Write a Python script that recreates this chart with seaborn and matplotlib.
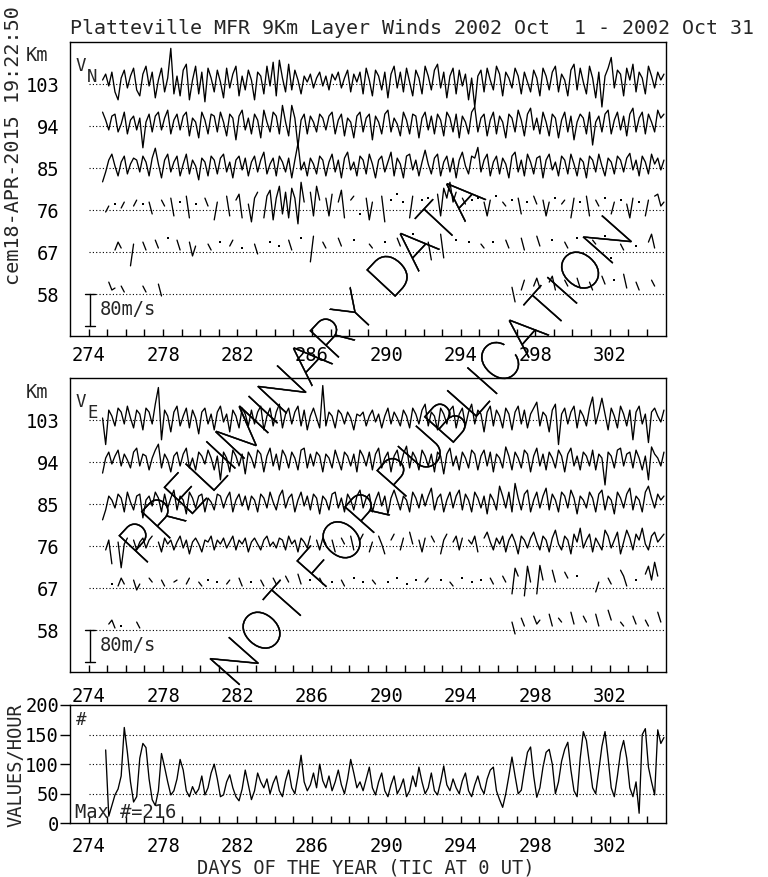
import numpy as np
import pandas as pd
import matplotlib
matplotlib.use("Agg")
import matplotlib.pyplot as plt
import seaborn as sns
from matplotlib import font_manager as fm
import matplotlib.patheffects as pe

N = None

# ---- data (winds in m/s, sampled every 4 h from day 274.75) ----
first_day = 274.75
per_day = 6
heights = [103, 94, 85, 76, 67, 58]
day_ticks = list(range(274, 305))
day_labels = [str(d) if (d - 274) % 4 == 0 else "" for d in day_ticks]
count_ticks = [0, 50, 100, 150, 200]

vn_103 = [10, 25, -5, 30, -20, -40, 15, 35, -10, 20, 40, -15,
          -30, 25, 45, -5, 30, -35, 10, 40, -20, 15, 90, -25,
          20, -30, 35, 50, -40, 10, 45, -25, 30, -45, 40, 15,
          -20, 35, 5, -35, 40, -10, 25, 45, -30, 20, -15, 35,
          10, -40, 30, 20, -25, 45, -5, 55, -30, 60, 15, -20,
          50, -15, 35, 10, -25, 20, 5, 25, -10, 15, 30, -5,
          20, -15, 25, 10, 30, -10, 15, 35, -20, 25, 5, 30,
          -25, 40, 10, -30, 35, 20, -15, 30, -35, 25, 45, -10,
          30, -20, 40, 5, -30, 35, 15, -25, 45, 20, -15, 35,
          50, -10, 30, -35, 20, 40, -25, 35, -5, 25, -40, 15,
          -58, 20, 35, -20, 40, 10, -15, 45, 25, -30, 30, 15,
          -10, 40, 20, -25, 30, 5, -20, 35, 15, -30, 40, 20,
          -15, 30, 45, -20, 25, 10, -30, 35, 50, -15, 40, 5,
          -25, 45, 15, -35, 30, -58, 20, 40, 67, -10, 35, 25,
          -30, 40, 10, 50, -20, 30, 15, -25, 45, 20, -10, 30,
          10, 25]
vn_94 = [35, 15, -10, 25, 30, -15, 5, 35, -20, 15, 25, -10,
         20, -55, 10, 30, -15, 25, 35, -10, 20, 40, -20, 15,
         30, -10, 25, 35, -25, 20, 10, -30, 35, 15, -20, 30,
         25, -15, 35, 10, -25, 30, 20, -35, 25, 40, -10, 20,
         -20, 30, 15, -30, 40, 10, -15, 35, 25, -20, 52, 10,
         -25, 52, 20, -52, 15, 30, -20, 25, 10, -15, 30, 20,
         -10, 25, 35, -20, 15, 30, -25, 20, 10, -30, 25, 35,
         -15, 20, 30, -35, 25, 10, -20, 30, 40, -15, 20, 5,
         -25, 35, 15, -20, 30, 25, -30, 20, 35, -10, 25, -20,
         30, 15, -25, 35, 20, -15, 30, -30, 25, 10, -20, 35,
         48, -15, 20, 30, -25, 15, 35, -20, 25, 10, -30, 30,
         20, -15, 40, 15, -25, 30, 45, -10, 20, -20, 35, 10,
         -25, 30, 20, -30, 15, 35, -15, 25, -35, 10, 30, 20,
         -20, 35, -48, 10, 25, -15, 30, 40, -20, 15, 35, -10,
         25, -25, 30, 45, -15, 20, 35, -20, 30, 10, -15, 40,
         20, 30]
vn_85 = [-35, -10, 20, 35, 5, -20, 15, 30, -15, 10, 25, 20,
         -10, 30, 15, -20, 25, 50, 10, -25, 20, 35, -10, 15,
         30, -20, 10, 35, -15, 20, 5, -30, 25, 15, -20, 30,
         20, -15, 25, 35, -10, 15, -25, 20, 30, -5, 25, -20,
         15, 30, -10, 20, 40, -15, 10, 25, -20, 30, 15, -10,
         25, -25, 20, 62, -5, 15, -20, 25, 10, -15, 30, 20,
         -20, 15, 35, -10, 20, -25, 25, 40, -5, 15, -20, 30,
         20, -15, 35, 10, -25, 20, 30, -10, 15, 40, -20, 25,
         10, -25, 30, 35, -5, 20, -20, 15, 45, 10, -15, 25,
         35, -20, 15, 30, -10, 25, -25, 20, 40, 5, -15, 30,
         25, 52, -10, 20, 35, -20, 15, 30, -15, 25, 10, -25,
         30, 40, -10, 20, -20, 35, 15, -15, 25, 30, -25, 20,
         35, -5, 15, -20, 30, 20, -15, 35, 10, -20, 25, 15,
         -25, 30, 20, -10, 35, 5, -20, 25, 15, -15, 30, 20,
         -10, 25, 37, -5, 20, -20, 30, 15, -15, 35, 10, 25,
         -5, 20]
vn_76 = [N, -5, 10, N, 15, N, 5, 20, N, N, 10, 25,
         N, 15, N, 20, -10, N, N, 25, 10, N, 30, -15,
         N, 20, N, 35, -20, N, 15, N, N, 30, 10, N,
         -25, 20, N, N, 35, -15, N, 25, 40, -20, N, 15,
         -30, 30, 45, N, -20, 35, 50, -25, 30, 60, -10, 45,
         -20, 55, 30, -35, 70, 20, N, 45, -15, 60, 25, N,
         30, -15, 40, N, 20, 50, -20, N, 25, 35, N, -10,
         N, 30, -25, 20, N, N, 35, -30, N, 25, N, 40,
         N, 20, N, -20, 35, N, N, 25, N, 30, N, N,
         40, -15, 55, 30, 70, 20, 45, N, 30, 15, N, 25,
         N, 30, N, 20, -15, 25, N, 35, N, 20, 10, N,
         25, N, 30, -10, N, 20, N, 35, 15, N, 25, -15,
         20, N, 30, N, 15, 25, N, -20, 30, N, 20, N,
         35, -15, N, 25, 10, N, 30, N, -10, 20, N, 25,
         N, 15, -20, 30, N, 20, N, -15, 25, N, 35, 40,
         10, 20]
vn_67 = [N, N, N, N, 5, 25, 10, N, N, -35, 20, N,
         N, 25, 5, N, N, 30, 10, N, N, 35, N, N,
         30, 5, N, N, 25, -10, 15, N, N, N, 20, 5,
         N, N, 25, N, N, 15, 30, N, N, 10, N, N,
         N, 20, -5, N, N, N, 25, N, N, 15, N, N,
         30, 5, N, N, 35, N, N, -25, 40, N, N, 25,
         10, N, N, N, 35, 15, N, N, N, 30, N, N,
         N, N, 20, 10, N, N, N, 25, N, N, N, 35,
         15, N, N, N, 45, N, N, N, N, 25, -20, N,
         N, 45, -15, N, N, N, 30, N, N, N, 25, N,
         N, N, 20, 10, N, N, 25, N, N, N, 30, 10,
         N, N, N, 35, 5, N, N, N, 40, 15, N, N,
         N, 30, N, N, N, 25, 10, N, N, 35, N, N,
         N, N, 30, 20, N, N, 40, N, -15, N, N, 20,
         5, N, N, N, 15, N, N, N, 25, 45, 10, N,
         N, N]
vn_58 = [N, N, 30, 10, 15, N, 20, 5, N, N, N, N,
         N, 20, 5, N, N, N, 25, -5, N, N, N, N,
         N, N, N, N, N, N, N, N, N, N, N, N,
         N, N, N, N, N, N, N, N, N, N, N, N,
         N, N, N, N, N, N, N, N, N, N, N, N,
         N, N, N, N, N, N, N, N, N, N, N, N,
         N, N, N, N, N, N, N, N, N, N, N, N,
         N, N, N, N, N, N, N, N, N, N, N, N,
         N, N, N, N, N, N, N, N, N, N, N, N,
         N, N, N, N, N, N, N, N, N, N, N, N,
         N, N, N, N, N, N, N, N, N, N, N, N,
         17, -20, N, 10, 35, N, N, 20, 40, 15, N, N,
         30, 45, 10, N, N, 35, 20, N, N, 40, 15, N,
         N, 30, 10, N, N, 45, 25, N, N, 35, N, N,
         50, 15, N, N, 30, 10, N, N, N, 35, 20, N,
         N, N]

ve_103 = [5, -62, 25, 10, -15, 30, 20, -10, 35, 5, -20, 25,
          15, -25, 30, 20, -10, 40, 82, -50, 25, 10, -30, 20,
          35, -15, 10, 30, -20, 25, 5, -35, 20, 30, -10, 15,
          -25, 20, 35, -5, 15, -30, 25, 10, -20, 30, 15, -15,
          25, -10, 20, 35, -25, 10, 30, -15, 20, 40, -20, 15,
          30, -10, 20, 35, -15, 25, -25, 10, 30, 5, -20, 87,
          -15, 20, 10, -20, 25, 15, -10, 20, 5, -25, 15, 10,
          20, -15, 10, 25, -5, 15, -20, 10, 30, -10, 20, 5,
          -15, 25, 10, -20, 30, 15, -10, 25, 40, -15, 20, 10,
          -25, 30, 15, -10, 25, 35, -20, 15, 30, -15, 20, 40,
          -10, 25, 15, -30, 20, 35, -15, 25, 10, -20, 30, 15,
          -25, 20, 35, -10, 25, -20, 15, 30, 45, -15, 20, 10,
          -30, 25, 40, -62, 15, 30, -10, 20, 35, -20, 25, 10,
          -15, 30, 58, -10, 20, 55, 15, -25, 30, 10, -20, 35,
          15, -15, 25, -50, 20, 35, -10, 15, -57, 20, 30, 10,
          -5, 25]
ve_94 = [-28, 10, 25, -5, 15, 30, -10, 20, 5, -15, 25, 35,
         -10, 20, 15, -20, 10, 30, 45, -15, 20, 5, -25, 15,
         25, -10, 20, 35, -15, 10, -20, 25, 15, -5, 30, 10,
         -20, 15, -45, 25, 10, -25, 30, 15, -10, 20, -30, 25,
         10, -15, 30, 20, -25, 15, 35, -10, 20, -20, 30, 15,
         -15, 25, 10, -20, 30, 35, -15, 20, -10, 25, 15, -25,
         20, 10, -15, 30, 5, -20, 25, 15, -10, 20, -25, 30,
         15, -10, 25, -20, 20, 35, -15, 10, 25, -25, 15, 30,
         -10, 20, 40, -15, 25, 10, -20, 30, 15, -10, 20, -25,
         25, 15, -30, 20, 35, -10, 15, -20, 25, 10, -15, 30,
         20, -20, 15, 30, -10, 25, -25, 20, 10, -15, 38, 15,
         -20, 25, 10, -15, 30, 20, -25, 15, 35, -10, 20, -20,
         25, 10, -15, 30, 15, -25, 20, 35, -10, 15, -20, 25,
         15, -10, 30, -20, 20, 10, -58, 25, 15, -15, 30, 35,
         -10, 20, 25, -15, 30, 10, -20, 15, -45, 38, 20, 10,
         -10, 25]
ve_85 = [-40, -15, 20, 10, -10, 25, 15, -20, 30, 5, -15, 20,
         25, -35, 10, 20, -5, 30, 15, -20, 25, -10, 15, 35,
         -15, 20, 10, -25, 30, 15, -10, 20, 25, -20, 15, 5,
         -15, 25, 20, -10, 15, 30, -20, 10, 25, -5, 20, -15,
         20, 10, -20, 25, 15, -10, 30, 5, -15, 20, 35, -10,
         15, 25, -20, 10, 30, -5, 20, -15, 25, 15, -25, 20,
         10, -15, 25, 30, -10, 15, -20, 25, 10, -15, 20, 35,
         -10, 15, 25, -20, 10, 30, -5, 20, -25, 15, 35, 10,
         -15, 20, 10, -20, 30, 15, -10, 25, -5, 20, 40, -15,
         15, 25, -20, 10, 30, -10, 20, 35, -15, 25, 10, -20,
         30, 15, -10, 20, -25, 25, 10, -15, 45, 20, -10, 30,
         -20, 52, 15, -15, 25, 35, -20, 10, 30, -10, 20, 40,
         -15, 25, 10, -20, 30, 20, -10, 35, 15, -25, 20, 10,
         -10, 30, 15, -20, 25, 35, -15, 20, 10, -25, 30, 15,
         -10, 25, 40, -15, 20, 10, -20, 30, 45, 15, -10, 25,
         10, 20]
ve_76 = [N, -10, 15, -45, N, 10, -55, 5, 20, N, 15, -10,
         10, 20, -5, 15, 25, N, 10, -15, 20, 5, 15, -10,
         10, 25, -5, 15, -20, 10, 20, 5, -15, 15, 10, 25,
         -10, 15, 5, 20, -5, 10, 25, -10, 15, 5, 20, -15,
         10, 20, 5, -10, 15, 25, 0, 10, -5, 20, 15, -10,
         25, 5, 15, -15, 20, 10, -5, 25, N, 15, -10, 20,
         5, N, 15, -15, N, 20, 5, N, 25, -10, N, 15,
         30, N, -15, 10, N, 25, 5, -20, N, 15, 30, N,
         -10, 20, N, 35, 5, N, 15, -15, 20, N, 25, 10,
         N, -20, 15, 30, N, 10, 25, -10, 20, N, 15, 5,
         25, -15, N, 20, 35, 10, -10, 20, 5, 25, -15, 15,
         30, 10, -20, 25, 15, -5, 20, 35, 10, -10, 25, 15,
         -15, 20, 40, 5, -10, 25, 15, -20, 30, 10, 45, -5,
         15, 30, -15, 20, 5, -10, 40, 25, -5, 15, 35, -20,
         10, 40, 20, -10, 30, 15, 45, 5, -10, 25, 35, 10,
         20, 30]
ve_67 = [N, N, N, 10, N, 5, 25, 10, N, N, 20, -5,
         10, N, N, 25, 15, N, N, 20, 5, N, N, 15,
         20, N, N, 10, 25, N, N, 15, 5, N, 20, N,
         N, 15, N, N, 10, 20, N, N, 25, 5, N, N,
         15, N, N, 20, 5, N, N, 25, 10, N, N, 30,
         15, N, N, 35, 10, N, N, 20, N, N, 25, 10,
         N, N, 15, N, N, 20, 5, N, N, 25, N, N,
         15, N, N, 20, 10, N, N, N, 15, N, N, 25,
         N, N, 10, N, N, 20, N, N, 15, 25, N, N,
         N, 20, N, N, 15, 5, N, N, 25, N, N, 15,
         N, N, 20, N, N, 25, 10, N, N, 30, 15, N,
         -15, 50, 30, N, -20, 55, 15, N, -15, 57, 20, N,
         N, 45, 15, N, N, 40, 25, N, N, 30, N, N,
         N, N, N, -10, 15, N, N, 25, 10, N, N, 45,
         30, 5, N, N, 20, N, N, 35, 55, 20, 65, 30,
         N, N]
ve_58 = [N, N, 15, 25, 5, N, 10, N, N, N, N, 20,
         5, N, N, N, N, N, N, N, N, N, N, N,
         N, N, N, N, N, N, N, N, N, N, N, N,
         N, N, N, N, N, N, N, N, N, N, N, N,
         N, N, N, N, N, N, N, N, N, N, N, N,
         N, N, N, N, N, N, N, N, N, N, N, N,
         N, N, N, N, N, N, N, N, N, N, N, N,
         N, N, N, N, N, N, N, N, N, N, N, N,
         N, N, N, N, N, N, N, N, N, N, N, N,
         N, N, N, N, N, N, N, N, N, N, N, N,
         N, N, N, N, N, N, N, N, N, N, N, N,
         20, -10, N, 30, 10, N, N, 35, 15, 25, N, N,
         40, 10, N, 30, 20, N, N, 45, 15, N, N, 35,
         20, N, N, 40, 10, N, N, 50, 25, N, N, 20,
         10, N, N, 35, 15, N, N, 25, 10, N, N, 45,
         20, N]

counts = [N, 124, 12, 30, 48, 58, 80, 162, 120, 70, 36, 45,
          110, 135, 128, 75, 40, 30, 55, 118, 95, 70, 48, 55,
          75, 108, 90, 55, 45, 62, 50, 58, 80, 48, 60, 85,
          100, 75, 45, 48, 70, 82, 60, 45, 38, 58, 90, 65,
          40, 55, 85, 70, 60, 75, 50, 68, 80, 55, 45, 72,
          90, 60, 50, 80, 115, 70, 55, 65, 85, 60, 100, 72,
          60, 80, 55, 70, 90, 65, 50, 75, 108, 85, 60, 70,
          55, 75, 95, 60, 48, 70, 85, 55, 45, 65, 80, 50,
          60, 75, 45, 55, 80, 62, 95, 70, 50, 60, 85, 55,
          48, 70, 97, 65, 55, 75, 60, 50, 72, 85, 55, 45,
          65, 80, 60, 50, 75, 90, 95, 55, 40, 27, 50, 80,
          112, 80, 50, 56, 90, 120, 129, 80, 44, 60, 95, 120,
          125, 100, 50, 70, 105, 125, 137, 90, 55, 45, 110, 155,
          140, 100, 60, 50, 90, 130, 155, 110, 60, 45, 80, 120,
          140, 110, 60, 45, 70, 17, 150, 160, 95, 70, 48, 158,
          135, 145]

SCALE_MS = 80
KM_PER_MS = 6.79 / SCALE_MS

W, H = 768, 877
sns.set_style("ticks")
plt.rcParams["font.family"] = "DejaVu Sans Mono"
plt.rcParams["axes.edgecolor"] = "black"
plt.rcParams["axes.linewidth"] = 1.0

fig = plt.figure(figsize=(W / 100, H / 100), dpi=100)


def box(left, top, right, bottom):
    return [left / W, 1 - bottom / H, (right - left) / W, (bottom - top) / H]


def segments(values, base, scale):
    rows = []
    seg = 0
    gap = False
    for i, v in enumerate(values):
        if v is None:
            gap = True
            continue
        if gap:
            seg += 1
            gap = False
        rows.append((first_day + i / per_day, base + v * scale, seg))
    return pd.DataFrame(rows, columns=["day", "y", "seg"])


def draw_trace(ax, values, base, scale):
    df = segments(values, base, scale)
    size = df.groupby("seg")["day"].transform("size")
    sns.lineplot(data=df[size > 1], x="day", y="y", units="seg", estimator=None,
                 color="black", linewidth=0.95, ax=ax, legend=False)
    single = df[size == 1]
    if len(single):
        sns.scatterplot(data=single, x="day", y="y", color="black", s=3,
                        marker="s", linewidth=0, ax=ax, legend=False)


def style_x(ax, pad):
    ax.set_xlim(273, 305)
    ax.set_xticks(day_ticks)
    ax.set_xticklabels(day_labels)
    ax.tick_params(axis="x", direction="in", length=5, width=1, pad=pad,
                   labelsize=13.5, colors="black")
    ax.set_xlabel("")
    ax.set_ylabel("")
    for s in ax.spines.values():
        s.set_visible(True)
        s.set_linewidth(1.0)


def wind_panel(rect, traces, comp, pad):
    ax = fig.add_axes(rect)
    ax.hlines(heights, 274, 305, colors="black", linestyles=(0, (1, 2)), linewidth=0.8)
    for h, vals in zip(heights, traces):
        draw_trace(ax, vals, h, KM_PER_MS)
    style_x(ax, pad)
    ax.set_ylim(49, 112)
    ax.set_yticks(heights)
    ax.set_yticklabels([str(h) for h in heights])
    ax.tick_params(axis="y", length=0, pad=7.5, labelsize=13.5, colors="black")
    # scale bar
    bar_top = 58
    bar_bot = 58 - SCALE_MS * KM_PER_MS
    ax.plot([274.08, 274.08], [bar_top, bar_bot], color="black", linewidth=1)
    ax.plot([273.8, 274.36], [bar_top, bar_top], color="black", linewidth=1)
    ax.plot([273.8, 274.36], [bar_bot, bar_bot], color="black", linewidth=1)
    ax.text(274.6, (bar_top + bar_bot) / 2, f"{SCALE_MS}m/s", fontsize=13.5,
            ha="left", va="center")
    ax.text(-0.075, 1.0 - 14 / 294, "Km", transform=ax.transAxes, fontsize=13.5,
            ha="left", va="center")
    ax.text(6 / 595.5, 1 - 15 / 294, "V", transform=ax.transAxes, fontsize=12.5,
            ha="left", va="top")
    ax.text(17 / 595.5, 1 - 26 / 294, comp, transform=ax.transAxes, fontsize=12.5,
            ha="left", va="top")
    return ax


ax1 = wind_panel(box(70, 42, 665.5, 336), [vn_103, vn_94, vn_85, vn_76, vn_67, vn_58], "N", 7.5)
ax2 = wind_panel(box(70, 378, 665.5, 672), [ve_103, ve_94, ve_85, ve_76, ve_67, ve_58], "E", 10.5)

# counts panel
ax3 = fig.add_axes(box(70, 705, 665.5, 823.3))
ax3.hlines([50, 100, 150], 274, 305, colors="black", linestyles=(0, (1, 2)), linewidth=0.8)
cdf = segments(counts, 0, 1)
sns.lineplot(data=cdf, x="day", y="y", units="seg", estimator=None, color="black",
             linewidth=0.95, ax=ax3, legend=False)
style_x(ax3, 10)
ax3.set_ylim(0, 200)
ax3.set_yticks(count_ticks)
ax3.set_yticklabels([str(c) for c in count_ticks])
ax3.tick_params(axis="y", direction="out", length=7, width=1, pad=1,
                labelsize=13.5, colors="black")
ax3.text(6 / 595.5, 1 - 15 / 118, "#", transform=ax3.transAxes, fontsize=12.5,
         ha="left", va="center")
ax3.text(5 / 595.5, 1 - 107 / 118, "Max #=216", transform=ax3.transAxes,
         fontsize=13.5, ha="left", va="center")

# figure texts
fig.text(70 / W, 1 - 34 / H, "Platteville MFR 9Km Layer Winds 2002 Oct  1 - 2002 Oct 31",
         fontsize=14.4, ha="left", va="baseline")
fig.text(14 / W, 1 - 146 / H, "cem18-APR-2015 19:22:50", rotation=90, fontsize=14.5,
         ha="center", va="center")
fig.text(16 / W, 1 - 765 / H, "VALUES/HOUR", rotation=90, fontsize=13.5,
         ha="center", va="center")
fig.text(366 / W, 1 - 868 / H, "DAYS OF THE YEAR (TIC AT 0 UT)", fontsize=13.5,
         ha="center", va="center")

# watermark
thin = []
for f in fm.fontManager.ttflist:
    try:
        w = int(f.weight)
    except (TypeError, ValueError):
        continue
    if f.name in ("Lato", "Roboto", "Open Sans", "Noto Sans", "Inter", "DejaVu Sans") \
            and w <= 250 and f.style == "normal":
        thin.append((w, f.fname))
thin.sort()
if thin:
    wm_kw = dict(fontproperties=fm.FontProperties(fname=thin[0][1], size=39), color="black",
                 path_effects=[pe.withStroke(linewidth=0.3, foreground="black")])
else:
    wm_kw = dict(fontsize=39, color="none",
                 path_effects=[pe.withStroke(linewidth=1.0, foreground="black")])
for txt, cx, cy, rot in [("PRELIMINARY DATA", 305, 373, 47),
                         ("NOT FOR PUBLICATION", 425, 454, 48.5)]:
    fig.text(cx / W, 1 - cy / H, txt, rotation=rot, rotation_mode="anchor",
             ha="center", va="center", zorder=10, **wm_kw)

fig.savefig("out.png", dpi=100)
